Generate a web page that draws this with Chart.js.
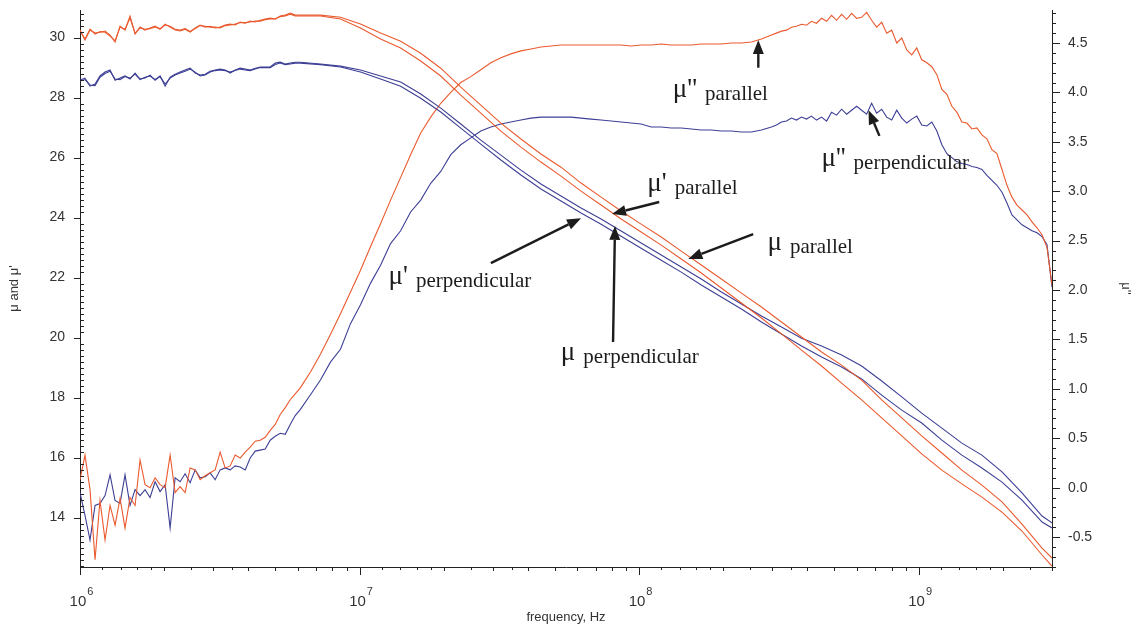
<!DOCTYPE html>
<html>
<head>
<meta charset="utf-8">
<title>Permeability spectra</title>
<script src="https://cdn.jsdelivr.net/npm/chart.js@4.4.1/dist/chart.umd.min.js"></script>
<style>
  html, body { margin: 0; padding: 0; background: #ffffff; }
  #wrap { width: 1145px; height: 630px; }
</style>
</head>
<body>
<div id="wrap"><canvas id="muChart"></canvas></div>
<script>
// frequency grids, Hz
const freqLow = [
  1.000e6, 1.042e6, 1.086e6, 1.132e6, 1.179e6, 1.229e6, 1.281e6, 1.335e6, 1.391e6, 1.449e6,
  1.510e6, 1.574e6, 1.640e6, 1.709e6, 1.781e6, 1.856e6, 1.934e6, 2.016e6, 2.101e6, 2.189e6,
  2.281e6, 2.377e6, 2.477e6, 2.582e6, 2.690e6, 2.803e6, 2.921e6, 3.044e6, 3.172e6, 3.306e6,
  3.445e6, 3.590e6, 3.741e6, 3.899e6, 4.063e6, 4.234e6, 4.412e6, 4.598e6, 4.791e6, 4.993e6,
  5.203e6, 5.422e6, 5.650e6, 5.888e6, 6.136e6
];
const freqCoarse = [
  7.25e6, 8.55e6, 1.008e7, 1.189e7, 1.403e7, 1.655e7, 1.952e7, 2.302e7, 2.715e7, 3.203e7,
  3.778e7, 4.456e7, 5.256e7, 6.199e7, 7.312e7, 8.625e7, 1.017e8, 1.200e8, 1.415e8, 1.669e8,
  1.969e8, 2.323e8, 2.740e8, 3.231e8, 3.811e8, 4.496e8, 5.303e8, 6.254e8, 7.377e8, 8.702e8,
  1.026e9, 1.211e9, 1.428e9, 1.684e9, 1.987e9, 2.343e9, 2.764e9, 3.0e9
];
const freqMid = [
  6.675e6, 7.246e6, 7.869e6, 8.547e6, 9.282e6, 1.008e7, 1.095e7, 1.189e7, 1.291e7, 1.403e7,
  1.523e7, 1.655e7, 1.797e7, 1.952e7, 2.120e7, 2.302e7, 2.500e7, 2.715e7, 2.949e7, 3.203e7,
  3.478e7, 3.778e7, 4.103e7, 4.456e7, 4.839e7, 5.256e7, 5.708e7, 6.199e7, 6.733e7, 7.312e7,
  7.941e7, 8.625e7, 9.367e7, 1.017e8, 1.105e8, 1.200e8, 1.303e8, 1.415e8, 1.537e8, 1.669e8,
  1.813e8, 1.969e8, 2.139e8, 2.323e8, 2.523e8, 2.740e8, 2.975e8
];
const freqHigh = [
  3.101e8, 3.231e8, 3.367e8, 3.509e8, 3.657e8, 3.811e8, 3.971e8, 4.138e8, 4.313e8, 4.496e8,
  4.685e8, 4.882e8, 5.088e8, 5.303e8, 5.526e8, 5.758e8, 6.001e8, 6.254e8, 6.517e8, 6.791e8,
  7.077e8, 7.377e8, 7.687e8, 8.011e8, 8.349e8, 8.702e8, 9.068e8, 9.450e8, 9.848e8, 1.026e9,
  1.070e9, 1.115e9, 1.162e9, 1.211e9, 1.262e9, 1.315e9, 1.370e9, 1.428e9, 1.488e9, 1.551e9,
  1.616e9, 1.684e9, 1.755e9, 1.829e9, 1.906e9, 1.987e9, 2.070e9, 2.157e9, 2.248e9, 2.343e9,
  2.442e9, 2.544e9, 2.651e9, 2.763e9, 2.879e9, 3.000e9
];

// mu' and mu, left axis (freqLow + freqCoarse)
const muPrimePar = [
  30.25, 29.92, 30.25, 30.15, 30.18, 30.22, 30.08, 29.85, 30.38, 30.25,
  30.72, 30.12, 30.35, 30.25, 30.32, 30.38, 30.28, 30.45, 30.35, 30.25,
  30.22, 30.28, 30.18, 30.32, 30.42, 30.35, 30.38, 30.32, 30.35, 30.42,
  30.45, 30.42, 30.52, 30.48, 30.55, 30.52, 30.58, 30.62, 30.65, 30.62,
  30.72, 30.75, 30.82, 30.75, 30.75,
  30.75, 30.68, 30.45, 30.15, 29.88, 29.48, 28.98, 28.35, 27.75, 27.15,
  26.62, 26.12, 25.68, 25.15, 24.68, 24.22, 23.78, 23.35, 22.88, 22.42,
  21.95, 21.48, 21.02, 20.52, 20.02, 19.52, 19.08, 18.58, 17.92, 17.32,
  16.72, 16.15, 15.58, 15.08, 14.52, 13.78, 12.98, 12.65
];
const muPar = [
  30.22, 29.95, 30.28, 30.12, 30.2, 30.18, 30.05, 29.9, 30.35, 30.28,
  30.65, 30.15, 30.32, 30.28, 30.3, 30.35, 30.3, 30.42, 30.38, 30.28,
  30.25, 30.3, 30.2, 30.3, 30.4, 30.38, 30.35, 30.35, 30.32, 30.4,
  30.42, 30.45, 30.5, 30.5, 30.52, 30.55, 30.55, 30.6, 30.62, 30.62,
  30.7, 30.72, 30.78, 30.72, 30.72,
  30.72, 30.62, 30.32, 29.95, 29.65, 29.22, 28.72, 28.08, 27.48, 26.88,
  26.35, 25.85, 25.38, 24.88, 24.42, 23.95, 23.52, 23.08, 22.62, 22.15,
  21.65, 21.15, 20.65, 20.12, 19.58, 19.05, 18.48, 17.92, 17.32, 16.72,
  16.12, 15.58, 15.12, 14.68, 14.18, 13.55, 12.75, 12.38
];
const muPrimePerp = [
  28.58, 28.65, 28.38, 28.45, 28.72, 28.85, 28.92, 28.58, 28.65, 28.72,
  28.62, 28.82, 28.62, 28.65, 28.75, 28.58, 28.72, 28.38, 28.68, 28.78,
  28.85, 28.92, 28.98, 28.82, 28.75, 28.78, 28.88, 28.92, 28.95, 28.92,
  28.82, 28.92, 28.98, 28.95, 28.92, 28.98, 29.02, 29.02, 29.02, 29.15,
  29.18, 29.12, 29.15, 29.18, 29.18,
  29.12, 29.05, 28.92, 28.72, 28.52, 28.12, 27.65, 27.12, 26.58, 26.08,
  25.58, 25.12, 24.72, 24.32, 23.95, 23.55, 23.15, 22.75, 22.35, 21.95,
  21.52, 21.12, 20.72, 20.35, 19.98, 19.72, 19.42, 19.05, 18.55, 18.02,
  17.48, 16.98, 16.48, 16.08, 15.52, 14.82, 14.05, 13.82
];
const muPerp = [
  28.55, 28.6, 28.42, 28.4, 28.68, 28.8, 28.88, 28.62, 28.6, 28.7,
  28.65, 28.78, 28.6, 28.68, 28.72, 28.6, 28.7, 28.45, 28.65, 28.75,
  28.82, 28.88, 28.95, 28.85, 28.72, 28.75, 28.85, 28.9, 28.92, 28.9,
  28.85, 28.9, 28.95, 28.92, 28.9, 28.95, 29.0, 29.0, 29.0, 29.1,
  29.15, 29.1, 29.12, 29.15, 29.15,
  29.1, 29.02, 28.85, 28.62, 28.38, 27.98, 27.52, 26.98, 26.45, 25.92,
  25.42, 24.95, 24.55, 24.15, 23.78, 23.38, 22.98, 22.58, 22.18, 21.75,
  21.35, 20.95, 20.52, 20.12, 19.72, 19.35, 19.02, 18.62, 18.08, 17.58,
  17.15, 16.58, 16.08, 15.65, 15.18, 14.58, 13.85, 13.65
];

// mu'', right axis (freqLow + freqMid + freqHigh)
const muLossPar = [
  0.08, 0.33, -0.02, -0.73, -0.13, -0.53, -0.18, -0.38, -0.11, -0.41,
  -0.10, -0.18, 0.28, 0.03, 0.00, 0.10, 0.03, 0.00, 0.33, -0.05,
  0.01, -0.05, 0.20, 0.18, 0.08, 0.12, 0.15, 0.18, 0.36, 0.20,
  0.22, 0.33, 0.30, 0.36, 0.41, 0.47, 0.48, 0.51, 0.58, 0.64,
  0.74, 0.81, 0.89, 0.95, 1.01,
  1.17, 1.35, 1.55, 1.76, 1.98, 2.20, 2.44, 2.67, 2.91, 3.14,
  3.37, 3.59, 3.75, 3.89, 4.00, 4.10, 4.16, 4.23, 4.30, 4.35,
  4.39, 4.42, 4.44, 4.46, 4.47, 4.48, 4.48, 4.48, 4.48, 4.48,
  4.48, 4.48, 4.47, 4.48, 4.48, 4.49, 4.48, 4.48, 4.48, 4.49,
  4.49, 4.49, 4.50, 4.50, 4.51, 4.54, 4.58,
  4.60, 4.62, 4.63, 4.66, 4.67, 4.69, 4.68, 4.72, 4.70, 4.75,
  4.72, 4.78, 4.73, 4.79, 4.74, 4.80, 4.75, 4.76, 4.81, 4.73,
  4.66, 4.71, 4.60, 4.63, 4.50, 4.55, 4.43, 4.38, 4.45, 4.33,
  4.30, 4.26, 4.18, 4.03, 3.98, 3.86, 3.80, 3.70, 3.69, 3.63,
  3.64, 3.57, 3.53, 3.42, 3.38, 3.22, 3.06, 2.94, 2.86, 2.81,
  2.76, 2.69, 2.63, 2.56, 2.43, 2.05
];
const muLossPerp = [
  -0.05, -0.28, -0.53, -0.18, -0.16, -0.08, 0.13, -0.13, -0.16, 0.13,
  -0.18, -0.02, -0.08, -0.02, -0.10, 0.06, -0.04, 0.03, -0.41, 0.10,
  0.06, 0.14, 0.05, 0.18, 0.10, 0.11, 0.15, 0.08, 0.18, 0.20,
  0.18, 0.22, 0.21, 0.18, 0.30, 0.37, 0.38, 0.39, 0.48, 0.52,
  0.55, 0.54, 0.64, 0.73, 0.79,
  0.94, 1.09, 1.27, 1.40, 1.66, 1.85, 2.07, 2.25, 2.47, 2.60,
  2.79, 2.91, 3.08, 3.20, 3.37, 3.47, 3.54, 3.61, 3.65, 3.68,
  3.70, 3.72, 3.74, 3.75, 3.75, 3.75, 3.75, 3.74, 3.73, 3.72,
  3.71, 3.70, 3.69, 3.68, 3.65, 3.65, 3.64, 3.64, 3.63, 3.62,
  3.62, 3.61, 3.61, 3.60, 3.60, 3.62, 3.65,
  3.67, 3.70, 3.71, 3.74, 3.72, 3.75, 3.73, 3.76, 3.72, 3.75,
  3.71, 3.80, 3.77, 3.83, 3.78, 3.82, 3.86, 3.82, 3.78, 3.89,
  3.79, 3.83, 3.75, 3.72, 3.82, 3.74, 3.69, 3.73, 3.76, 3.67,
  3.66, 3.70, 3.61, 3.47, 3.38, 3.34, 3.30, 3.28, 3.27, 3.25,
  3.24, 3.22, 3.16, 3.11, 3.06, 2.99, 2.88, 2.76, 2.71, 2.66,
  2.63, 2.60, 2.58, 2.54, 2.46, 2.03
];

const xTickValues = [1e6, 1e7, 1e8, 1e9];
const leftTickValues = [14, 16, 18, 20, 22, 24, 26, 28, 30];
const rightTickValues = [-0.5, 0, 0.5, 1, 1.5, 2, 2.5, 3, 3.5, 4, 4.5];

// callouts: big mu symbol, small name, arrow from tail to tip (all in data units)
const callouts = [
  { axis: 'yR', mu: "\u03bc''", name: 'parallel',      at: [1.32e8, 3.95],  tail: [2.67e8, 4.25],  tip: [2.67e8, 4.53] },
  { axis: 'yR', mu: "\u03bc''", name: 'perpendicular', at: [4.49e8, 3.255], tail: [7.24e8, 3.56],  tip: [6.62e8, 3.82] },
  { axis: 'yL', mu: "\u03bc'",  name: 'parallel',      at: [1.07e8, 24.88], tail: [1.18e8, 24.52], tip: [8.0e7, 24.12] },
  { axis: 'yL', mu: '\u03bc',   name: 'parallel',      at: [2.88e8, 22.92], tail: [2.56e8, 23.45], tip: [1.50e8, 22.62] },
  { axis: 'yL', mu: "\u03bc'",  name: 'perpendicular', at: [1.27e7, 21.78], tail: [2.95e7, 22.48], tip: [6.2e7, 23.98] },
  { axis: 'yL', mu: '\u03bc',   name: 'perpendicular', at: [5.25e7, 19.25], tail: [8.07e7, 19.85], tip: [8.2e7, 23.72] }
];

const orange = '#ea5a2e';
const navy = '#3d3f95';
const sansFont = 'Liberation Sans, Arial, sans-serif';
const serifFont = 'Liberation Serif, Times New Roman, serif';

function series(freq, vals) {
  return freq.map((f, i) => ({ x: f, y: vals[i] }));
}

const freqMu = freqLow.concat(freqCoarse);
const freqLoss = freqLow.concat(freqMid, freqHigh);

const lineDefaults = { borderWidth: 1.1, pointRadius: 0, tension: 0, fill: false };
const datasets = [
  { label: "mu' parallel", data: series(freqMu, muPrimePar), borderColor: orange, yAxisID: 'yL' },
  { label: 'mu parallel', data: series(freqMu, muPar), borderColor: orange, yAxisID: 'yL' },
  { label: "mu' perpendicular", data: series(freqMu, muPrimePerp), borderColor: navy, yAxisID: 'yL' },
  { label: 'mu perpendicular', data: series(freqMu, muPerp), borderColor: navy, yAxisID: 'yL' },
  { label: "mu'' parallel", data: series(freqLoss, muLossPar), borderColor: orange, yAxisID: 'yR' },
  { label: "mu'' perpendicular", data: series(freqLoss, muLossPerp), borderColor: navy, yAxisID: 'yR' }
].map(d => Object.assign({}, lineDefaults, d));

// ticks and the 10^n labels are drawn by hand
const axisTicks = {
  id: 'axisTicks',
  afterDraw(chart) {
    const { ctx, chartArea: a } = chart;
    const { x, yL, yR } = chart.scales;
    ctx.save();
    ctx.strokeStyle = '#222';
    ctx.lineWidth = 1;
    ctx.beginPath();

    const xMinor = [1.2, 1.4, 1.6, 1.8, 2, 2.5, 3, 3.5, 4, 5, 6, 7, 8, 9];
    xTickValues.forEach(d => {
      const px = Math.round(x.getPixelForValue(d)) + 0.5;
      ctx.moveTo(px, a.bottom); ctx.lineTo(px, a.bottom + 8);
      xMinor.forEach(m => {
        if (d * m > x.max) return;
        const p = Math.round(x.getPixelForValue(d * m)) + 0.5;
        ctx.moveTo(p, a.bottom); ctx.lineTo(p, a.bottom + (Number.isInteger(m) ? 4 : 3));
      });
    });

    leftTickValues.forEach(v => {
      const py = Math.round(yL.getPixelForValue(v)) + 0.5;
      ctx.moveTo(a.left - 6, py); ctx.lineTo(a.left, py);
    });
    for (let k = Math.ceil(yL.min * 5); k <= Math.floor(yL.max * 5); k++) {
      if (k % 10 === 0) continue;
      const py = Math.round(yL.getPixelForValue(k / 5)) + 0.5;
      ctx.moveTo(a.left, py); ctx.lineTo(a.left + 4, py);
    }

    rightTickValues.forEach(v => {
      const py = Math.round(yR.getPixelForValue(v)) + 0.5;
      ctx.moveTo(a.right, py); ctx.lineTo(a.right + 8, py);
    });
    for (let k = Math.ceil(yR.min * 10); k <= Math.floor(yR.max * 10); k++) {
      if (k % 5 === 0) continue;
      const py = Math.round(yR.getPixelForValue(k / 10)) + 0.5;
      ctx.moveTo(a.right, py); ctx.lineTo(a.right + 4, py);
    }
    ctx.stroke();

    // decade labels with raised exponent
    ctx.fillStyle = '#333';
    ctx.textBaseline = 'alphabetic';
    xTickValues.forEach(d => {
      const px = x.getPixelForValue(d);
      const exp = String(Math.round(Math.log10(d)));
      ctx.font = '15px ' + sansFont;
      const wBase = ctx.measureText('10').width;
      ctx.font = '11px ' + sansFont;
      const wExp = ctx.measureText(exp).width;
      const left = px - (wBase + wExp) / 2 + 1;
      ctx.font = '15px ' + sansFont;
      ctx.fillText('10', left, a.bottom + 39);
      ctx.font = '11px ' + sansFont;
      ctx.fillText(exp, left + wBase + 1, a.bottom + 28);
    });
    ctx.restore();
  }
};

const calloutLabels = {
  id: 'calloutLabels',
  afterDraw(chart) {
    const { ctx } = chart;
    const x = chart.scales.x;
    ctx.save();
    ctx.fillStyle = '#1c1c1c';
    ctx.strokeStyle = '#1c1c1c';
    callouts.forEach(c => {
      const y = chart.scales[c.axis];
      const tx = x.getPixelForValue(c.at[0]);
      const ty = y.getPixelForValue(c.at[1]);
      ctx.textBaseline = 'alphabetic';
      ctx.textAlign = 'left';
      ctx.font = '27px ' + serifFont;
      ctx.fillText(c.mu, tx, ty);
      const w = ctx.measureText(c.mu).width;
      ctx.font = '21px ' + serifFont;
      ctx.fillText(c.name, tx + w + 8, ty + 3);

      const x0 = x.getPixelForValue(c.tail[0]), y0 = y.getPixelForValue(c.tail[1]);
      const x1 = x.getPixelForValue(c.tip[0]), y1 = y.getPixelForValue(c.tip[1]);
      const ang = Math.atan2(y1 - y0, x1 - x0);
      const head = 14, half = 5.5;
      const bx = x1 - head * Math.cos(ang), by = y1 - head * Math.sin(ang);
      ctx.lineWidth = 2.4;
      ctx.beginPath();
      ctx.moveTo(x0, y0);
      ctx.lineTo(bx, by);
      ctx.stroke();
      ctx.beginPath();
      ctx.moveTo(x1, y1);
      ctx.lineTo(bx + half * Math.sin(ang), by - half * Math.cos(ang));
      ctx.lineTo(bx - half * Math.sin(ang), by + half * Math.cos(ang));
      ctx.closePath();
      ctx.fill();
    });
    ctx.restore();
  }
};

const tickFont = { family: sansFont, size: 14 };
const titleFont = { family: sansFont, size: 13 };

// fixed axis boxes so the plot area sits where it should
function fixVertical(width) {
  return s => { s.width = width; s.paddingTop = 0; s.paddingBottom = 0; };
}

window.addEventListener('load', function () {
  const ctx = document.getElementById('muChart').getContext('2d');
  window.muChart = new Chart(ctx, {
    type: 'line',
    data: { datasets: datasets },
    options: {
      responsive: true,
      maintainAspectRatio: false,
      animation: false,
      layout: { padding: { top: 10, left: 0, right: 0, bottom: 0 } },
      plugins: { legend: { display: false }, tooltip: { enabled: false } },
      scales: {
        x: {
          type: 'logarithmic',
          position: 'bottom',
          min: 1e6,
          max: 3e9,
          afterBuildTicks: s => { s.ticks = xTickValues.map(v => ({ value: v })); },
          afterFit: s => { s.height = 63; s.paddingLeft = 0; s.paddingRight = 0; },
          grid: { display: false, drawTicks: false },
          border: { display: true, color: '#222', width: 1 },
          ticks: { display: false },
          title: { display: true, text: 'frequency, Hz', color: '#333', font: titleFont, padding: { top: 0, bottom: 5 } }
        },
        yL: {
          type: 'linear',
          position: 'left',
          min: 12.35,
          max: 30.92,
          afterBuildTicks: s => { s.ticks = leftTickValues.map(v => ({ value: v })); },
          afterFit: fixVertical(80),
          grid: { display: false, drawTicks: false },
          border: { display: true, color: '#222', width: 1 },
          ticks: { autoSkip: false, padding: 15, color: '#333', font: tickFont },
          title: { display: true, text: "\u03bc and \u03bc'", color: '#333', font: titleFont, padding: { top: 7, bottom: 0 } }
        },
        yR: {
          type: 'linear',
          position: 'right',
          min: -0.803,
          max: 4.834,
          afterBuildTicks: s => { s.ticks = rightTickValues.map(v => ({ value: v })); },
          afterFit: fixVertical(93),
          grid: { display: false, drawTicks: false },
          border: { display: true, color: '#222', width: 1 },
          ticks: {
            autoSkip: false, padding: 16, color: '#333', font: tickFont,
            callback: v => v.toFixed(1)
          },
          title: { display: true, text: "\u03bc''", color: '#333', font: titleFont, padding: { top: 12, bottom: 0 } }
        }
      }
    },
    plugins: [axisTicks, calloutLabels]
  });
  return window.muChart;
});
</script>
</body>
</html>
